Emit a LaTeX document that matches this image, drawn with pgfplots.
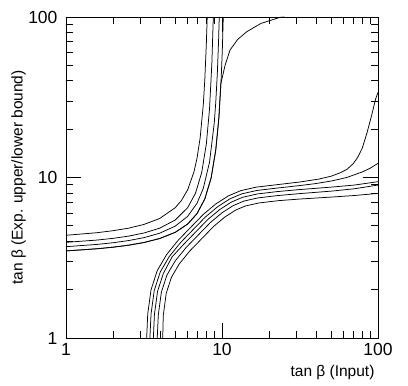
\documentclass[border=0pt]{standalone}
\usepackage{fontspec}
\setmainfont{Liberation Sans}
\usepackage{pgfplots}
\pgfplotsset{compat=1.18}
\begin{document}
\begin{tikzpicture}
\useasboundingbox (-66pt,-48pt) rectangle (342pt,338pt);
\begin{axis}[
  at={(0,0)}, anchor=south west,
  scale only axis, width=312pt, height=321pt,
  xmode=log, ymode=log, xmin=1, xmax=100, ymin=1, ymax=100,
  xtick={1,10,100}, xticklabels={1,10,100},
  ytick={1,10,100}, yticklabels={1,10,100},
  minor xtick={2,3,4,5,6,7,8,9,20,30,40,50,60,70,80,90},
  minor ytick={2,3,4,5,6,7,8,9,20,30,40,50,60,70,80,90},
  tick align=inside, xtick pos=both, ytick pos=both,
  major tick length=15pt, minor tick length=7.5pt,
  tick style={black, line width=0.8pt},
  axis line style={line width=0.8pt},
  tick label style={font=\fontsize{17.5}{20}\selectfont},
  xticklabel style={yshift=-2pt},
  yticklabel style={xshift=-5pt},
  label style={font=\fontsize{15.5}{18}\selectfont},
  /pgf/number format/assume math mode=true,
  xlabel={tan β (Input)},
  xlabel style={at={(axis description cs:1,-0.108)}, anchor=east},
  ylabel={tan β (Exp. upper/lower bound)},
  ylabel style={at={(axis description cs:-0.152,0.5)}, anchor=center},
  curve/.style={black, line width=0.75pt, mark=none},
]
% upper-left branch
\addplot[curve] coordinates {(1,4.365) (1.585,4.53) (1.995,4.66) (2.512,4.83) (3.162,5.10) (3.981,5.55) (5.012,6.48) (5.495,7.19) (6.026,8.39) (6.607,10.81) (6.918,13.18) (7.244,17.66) (7.586,28.3) (7.762,40.8) (7.943,69.2) (8.04,100)};
\addplot[curve] coordinates {(1,3.945) (1.585,4.077) (1.995,4.175) (2.512,4.311) (3.162,4.510) (3.981,4.831) (5.012,5.433) (6.026,6.492) (6.761,7.975) (7.413,10.74) (7.943,16.25) (8.318,26.73) (8.610,51.3) (8.797,100)};
\addplot[curve] coordinates {(1,3.706) (1.585,3.831) (1.995,3.921) (2.512,4.044) (3.162,4.220) (3.981,4.495) (5.012,4.975) (6.026,5.730) (6.918,6.912) (7.586,8.545) (8.318,12.46) (8.913,21.68) (9.120,29.3) (9.333,44.4) (9.506,70.8) (9.605,100)};
\addplot[curve] coordinates {(1,3.487) (1.585,3.598) (1.995,3.678) (2.512,3.785) (3.162,3.936) (3.981,4.166) (5.012,4.552) (6.026,5.129) (6.918,5.955) (7.762,7.356) (8.511,9.908) (9.120,14.80) (9.550,23.54) (9.886,41.95) (10.05,62.5) (10.19,100)};
\addplot[curve] coordinates {(1,3.487) (1.585,3.598) (1.995,3.678) (2.512,3.785) (3.162,3.936) (3.981,4.166) (5.012,4.552) (6.026,5.129) (6.918,5.955) (7.762,7.356) (8.511,9.908) (9.120,14.80) (9.550,23.54) (9.840,38.6) (10.47,50.1) (11.25,62.2) (12.59,72.4) (14.39,80.9) (17.78,91.2) (23.55,99.5) (25.1,100)};
% lower-right branch
\addplot[curve] coordinates {(3.289,1) (3.342,1.4125) (3.508,1.9953) (3.846,2.630) (4.416,3.311) (5.248,4.074) (6.310,4.898) (7.586,5.888) (9.120,6.839) (10.965,7.674) (13.18,8.279) (16.60,8.710) (22.39,9.016) (31.62,9.376) (41.69,9.772) (50.12,10.19) (57.54,10.72) (63.10,11.22) (69.18,12.16) (74.13,13.34) (79.43,15.31) (85.11,19.05) (91.20,24.55) (96.61,30.90) (100,33.88)};
\addplot[curve] coordinates {(3.451,1) (3.508,1.406) (3.677,1.974) (4.019,2.578) (4.593,3.220) (5.439,3.943) (6.529,4.734) (7.836,5.681) (9.382,6.575) (11.21,7.352) (13.37,7.905) (16.72,8.304) (22.51,8.591) (31.62,8.913) (39.81,9.162) (50.12,9.506) (63.10,10.00) (79.43,10.84) (89.13,11.43) (100,12.25)};
\addplot[curve] coordinates {(3.631,1) (3.688,1.3996) (3.863,1.952) (4.208,2.525) (4.786,3.200) (5.647,3.811) (6.767,4.567) (8.108,5.472) (9.663,6.311) (11.48,7.027) (13.57,7.532) (16.86,7.900) (22.64,8.171) (31.62,8.414) (50.12,8.710) (70.79,8.974) (100,9.419)};
\addplot[curve] coordinates {(3.846,1) (3.906,1.392) (4.086,1.928) (4.435,2.465) (5.016,3.024) (5.893,3.666) (7.048,4.384) (8.428,5.243) (9.993,6.023) (11.78,6.677) (13.80,7.129) (17.01,7.463) (22.79,7.718) (31.62,7.943) (50.12,8.222) (70.79,8.511) (100,8.974)};
\addplot[curve] coordinates {(4.169,1) (4.203,1.3826) (4.390,1.8967) (4.742,2.391) (5.327,2.898) (6.222,3.488) (7.425,4.162) (8.855,4.965) (10.43,5.673) (12.19,6.255) (14.10,6.643) (17.22,6.939) (22.98,7.173) (31.62,7.345) (50.12,7.551) (70.79,7.727) (100,7.962)};
\end{axis}
\end{tikzpicture}
\end{document}
